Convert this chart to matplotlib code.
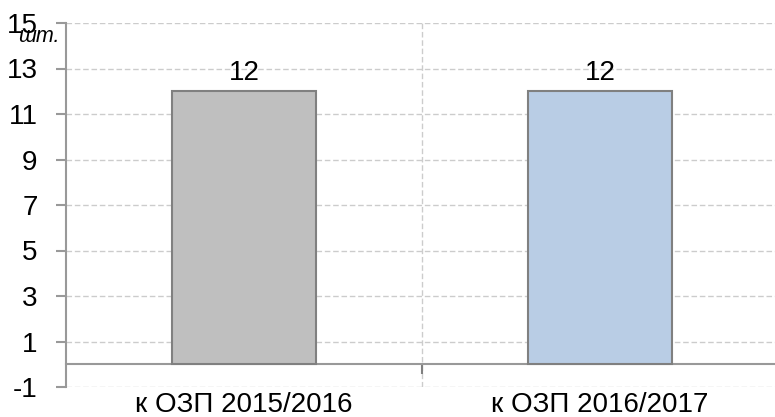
import matplotlib
matplotlib.use("Agg")
import matplotlib.pyplot as plt
from matplotlib.ticker import FixedLocator

categories = ["к ОЗП 2015/2016", "к ОЗП 2016/2017"]
values = [12, 12]
bar_colors = ["#bfbfbf", "#b9cde5"]
yticks = [-1, 1, 3, 5, 7, 9, 11, 13, 15]
unit_label = "шт."

plt.rcParams['font.family'] = ['Liberation Sans Narrow', 'Liberation Sans', 'DejaVu Sans']
plt.rcParams['axes.unicode_minus'] = False

FS = 20

fig = plt.figure(figsize=(7.75, 4.17), dpi=100)
ax = fig.add_axes([66/775, 30/417, 712/775, 364/417])

x = list(range(len(categories)))
ax.bar(x, values, width=0.405, color=bar_colors, edgecolor="#808080", linewidth=1.5, zorder=3)
for xi, v in zip(x, values):
    ax.text(xi, v + 0.25, str(v), ha="center", va="bottom", fontsize=FS, zorder=4)

ax.set_xlim(-0.5, len(categories) - 0.5)
ax.set_ylim(yticks[0], yticks[-1])
ax.set_yticks(yticks)
ax.set_xticks(x)
ax.set_xticklabels(categories)
ax.xaxis.set_minor_locator(FixedLocator([0.5]))
ax.tick_params(axis="x", which="major", length=0, pad=20, labelsize=FS)
ax.tick_params(axis="x", which="minor", length=7, width=1.5, color="#808080", direction="out")
ax.tick_params(axis="y", which="major", length=7.5, width=1.5, color="#999999", direction="out", labelsize=FS, pad=13)

ax.grid(axis="y", which="major", linestyle=(0, (4, 2)), color="#cccccc", linewidth=1, zorder=0)
ax.grid(axis="x", which="minor", linestyle=(0, (4, 2)), color="#cccccc", linewidth=1, zorder=0)

for s in ["top", "right"]:
    ax.spines[s].set_visible(False)
ax.spines["left"].set_color("#999999")
ax.spines["left"].set_linewidth(1.5)
ax.spines["bottom"].set_position(("data", 0))
ax.spines["bottom"].set_color("#999999")
ax.spines["bottom"].set_linewidth(1.5)
ax.spines["bottom"].set_zorder(2)

fig.text(60/775, 1 - 36/417, unit_label, ha="right", va="center", fontsize=15.5, style="italic")

fig.savefig("out.png", dpi=100)
